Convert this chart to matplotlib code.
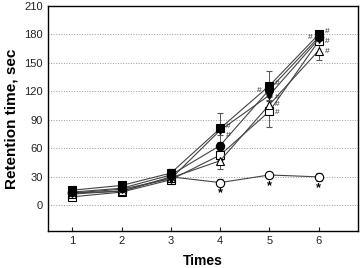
import matplotlib.pyplot as plt

plt.rcParams['font.family'] = ['Liberation Sans', 'DejaVu Sans']

times = [1, 2, 3, 4, 5, 6]

# retention time, sec (mean) and error per group
ctrl = [13, 15, 30, 24, 32, 30]
ctrl_err = [2, 2, 8, 4, 3, 4]
sq_fill = [16, 21, 34, 81, 126, 180]
sq_fill_err = [2, 2, 4, 16, 15, 3]
circ_fill = [14, 18, 32, 63, 122, 177]
circ_fill_err = [2, 2, 3, 4, 6, 4]
tri_down = [13, 17, 28, 79, 116, 175]
tri_down_err = [2, 2, 3, 5, 6, 4]
tri_open = [12, 15, 29, 47, 106, 163]
tri_open_err = [2, 2, 4, 9, 8, 10]
sq_open = [9, 14, 27, 53, 99, 173]
sq_open_err = [2, 2, 3, 5, 16, 4]

stars_x = [4, 5, 6]
stars_y = [13, 20, 18]

hash_x = [4.17, 4.17, 4.8, 5.16, 5.16, 5.16, 5.16, 5.84, 6.17, 6.17, 6.17]
hash_y = [83, 74, 121, 128, 114, 106, 98, 177, 183, 172, 162]

series = [
    (ctrl, ctrl_err, 'o', 'white'),
    (sq_open, sq_open_err, 's', 'white'),
    (tri_open, tri_open_err, '^', 'white'),
    (tri_down, tri_down_err, 'v', 'black'),
    (circ_fill, circ_fill_err, 'o', 'black'),
    (sq_fill, sq_fill_err, 's', 'black'),
]

fig = plt.figure(figsize=(3.62, 2.68), dpi=100)
ax = fig.add_axes([0.132, 0.138, 0.857, 0.84])

for y, err, m, fc in series:
    ax.errorbar(times, y, yerr=err, color='#444444', lw=0.8, marker=m, ms=6,
                mfc=fc, mec='black', mew=0.8, ecolor='#555555', elinewidth=0.7,
                capsize=2.5, capthick=0.7)

for x, y in zip(stars_x, stars_y):
    ax.text(x, y, '*', ha='center', va='center', fontsize=9, fontweight='bold')
for x, y in zip(hash_x, hash_y):
    ax.text(x, y, '#', ha='center', va='center', fontsize=6, color='#333333')

ax.set_xlim(0.5, 6.8)
ax.set_ylim(-27, 210)
ax.set_xticks(times)
ax.set_yticks(range(0, 211, 30))
ax.yaxis.grid(True, ls=':', color='#999999', lw=0.7)
ax.set_axisbelow(True)
ax.tick_params(direction='in', labelsize=8, colors='#222222', length=3)
ax.tick_params(axis='y', length=0)
for s in ax.spines.values():
    s.set_linewidth(1.0)

ax.set_xlabel('Times', fontsize=10, fontweight='bold', labelpad=6)
ax.set_ylabel('Retention time, sec', fontsize=11, fontweight='bold', labelpad=4)

fig.savefig('out.png', dpi=100)
